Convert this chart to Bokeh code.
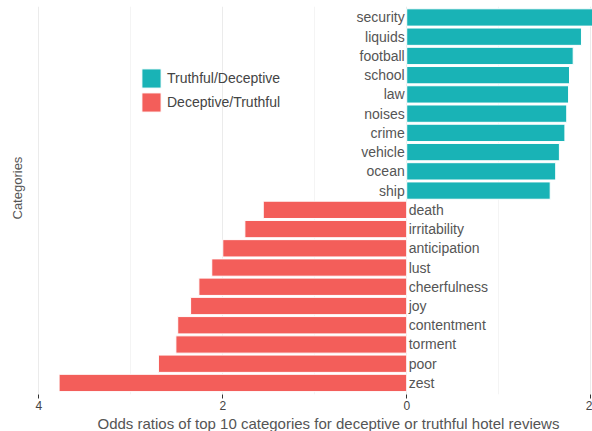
from bokeh.plotting import figure
from bokeh.models import ColumnDataSource, FixedTicker, Range1d, Title, Legend, LegendItem
from bokeh.core.properties import value
from bokeh.embed import file_html
from bokeh.resources import INLINE

pos_cats = ["security", "liquids", "football", "school", "law", "noises", "crime", "vehicle", "ocean", "ship"]
pos_vals = [2.05, 1.90, 1.81, 1.77, 1.76, 1.74, 1.72, 1.66, 1.62, 1.56]
neg_cats = ["death", "irritability", "anticipation", "lust", "cheerfulness", "joy", "contentment", "torment", "poor", "zest"]
neg_vals = [-1.56, -1.76, -2.00, -2.12, -2.26, -2.35, -2.49, -2.51, -2.70, -3.78]
tick_vals = [-4, -2, 0, 2]
tick_labels = ["4", "2", "0", "2"]

n = len(pos_cats) + len(neg_cats)
pos_y = [n - 1 - i for i in range(len(pos_cats))]
neg_y = [len(neg_cats) - 1 - i for i in range(len(neg_cats))]

pos_src = ColumnDataSource(dict(y=pos_y, v=pos_vals, cat=pos_cats))
neg_src = ColumnDataSource(dict(y=neg_y, v=neg_vals, cat=neg_cats))

FONT = "Liberation Sans"
TEAL = "#19B3B6"
RED = "#F35E5A"
TXT = "#555555"

p = figure(width=592, height=431, output_backend="svg", toolbar_location=None,
           x_range=Range1d(-4.08, 2.02), y_range=Range1d(-0.6, 19.57),
           min_border_left=30, min_border_right=0, min_border_top=6, min_border_bottom=37)
p.outline_line_color = None
p.background_fill_color = "white"

r1 = p.hbar(y="y", left=0, right="v", height=0.9, source=pos_src, fill_color=TEAL, line_color="white", line_width=1)
r2 = p.hbar(y="y", left=0, right="v", height=0.9, source=neg_src, fill_color=RED, line_color="white", line_width=1)

p.text(x=0, y="y", text="cat", source=pos_src, x_offset=-2, text_align="right", text_baseline="middle",
       text_font=value(FONT), text_font_size="14px", text_color=TXT)
p.text(x=0, y="y", text="cat", source=neg_src, x_offset=2, text_align="left", text_baseline="middle",
       text_font=value(FONT), text_font_size="14px", text_color=TXT)

legend = Legend(items=[LegendItem(label="Truthful/Deceptive", renderers=[r1]),
                       LegendItem(label="Deceptive/Truthful", renderers=[r2])],
                location=(108, 280), glyph_width=24, glyph_height=24, spacing=0, padding=0,
                label_standoff=4, label_text_font=FONT, label_text_font_size="14px",
                label_text_color="#444444", border_line_color=None, background_fill_alpha=0,
                margin=0, label_height=24)
p.add_layout(legend)

xa = p.xaxis[0]
xa.ticker = FixedTicker(ticks=tick_vals, minor_ticks=[])
xa.major_label_overrides = {t: l for t, l in zip(tick_vals, tick_labels)}
xa.axis_line_color = None
xa.major_tick_line_color = "#333333"
xa.major_tick_out = 4
xa.major_tick_in = 0
xa.minor_tick_line_color = None
xa.major_label_text_font = FONT
xa.major_label_text_font_size = "12px"
xa.major_label_text_color = "#444444"
xa.major_label_standoff = 2

p.add_layout(Title(text="Odds ratios of top 10 categories for deceptive or truthful hotel reviews",
                   text_font=FONT, text_font_size="15px", text_font_style="normal",
                   text_color=TXT, align="left", offset=66, standoff=0), "below")

p.yaxis.visible = False
p.add_layout(Title(text="Categories", text_font=FONT, text_font_size="13px", text_font_style="normal",
                   text_color=TXT, align="left", offset=175, standoff=14), "left")

p.xgrid.ticker = FixedTicker(ticks=tick_vals, minor_ticks=[-3, -1, 1])
p.xgrid.grid_line_color = "#ebebeb"
p.xgrid.minor_grid_line_color = "#f4f4f4"
p.ygrid.grid_line_color = None

open("out.html", "w").write(file_html(p, INLINE))
